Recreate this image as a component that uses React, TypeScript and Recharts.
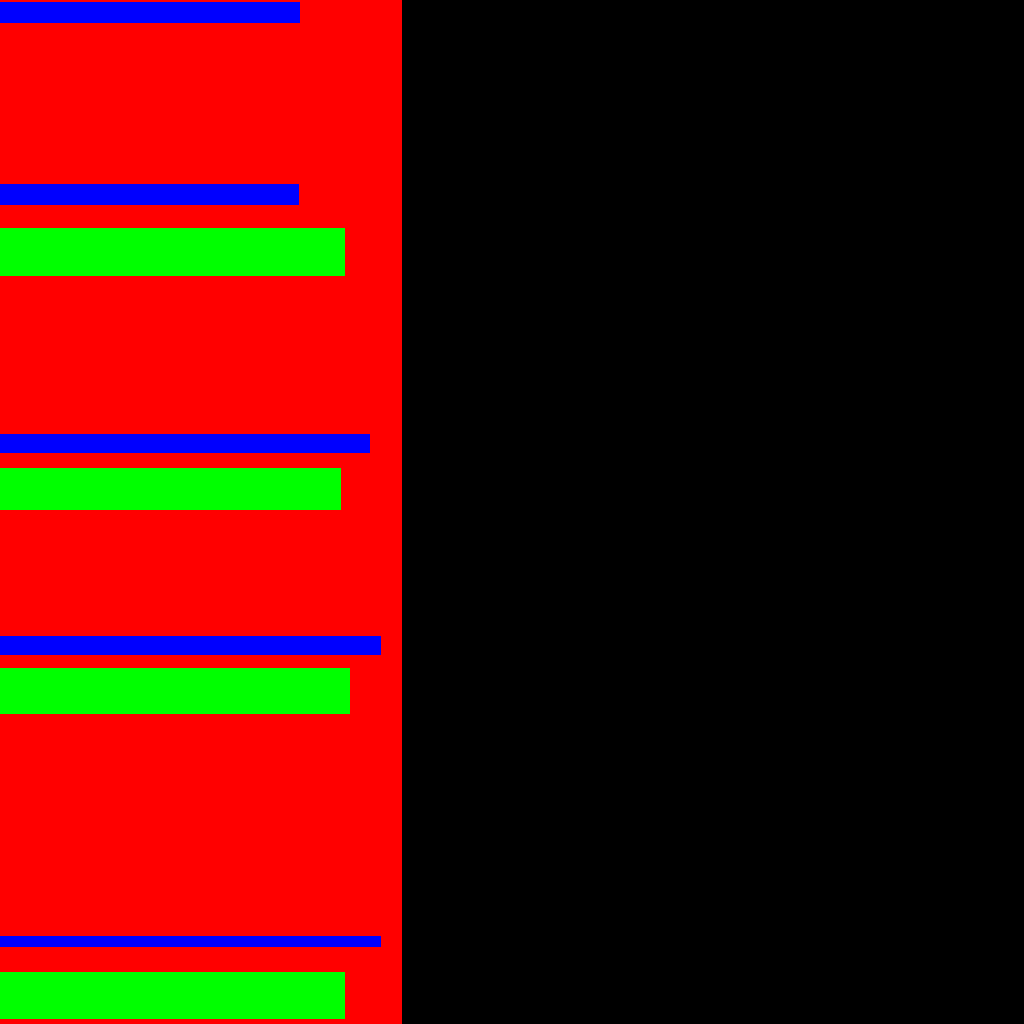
import { ComposedChart, XAxis, YAxis, ReferenceArea } from "recharts";

// extent of the plot in axis units (one unit = one pixel)
const axisMax = 1024;

// red panel
const panelLeft = [0];
const panelRight = [402];

// blue bars: top, bottom, length
const blueTop = [2, 184, 434, 636, 936];
const blueBottom = [23, 205, 453, 655, 947];
const blueValue = [300, 299, 370, 381, 381];

// green bars: top, bottom, length
const greenTop = [228, 468, 668, 972];
const greenBottom = [276, 510, 714, 1019];
const greenValue = [345, 341, 350, 345];

const RED = "#FF0000";
const BLUE = "#0000FF";
const GREEN = "#00FF00";

export default function App() {
  return (
    <div
      style={{
        position: "fixed",
        top: 0,
        left: 0,
        width: 1024,
        height: 1024,
        background: "#000000",
      }}
    >
      <ComposedChart width={1024} height={1024} data={[]} margin={{ top: 0, right: 0, bottom: 0, left: 0 }}>
        <XAxis type="number" dataKey="x" domain={[0, axisMax]} hide allowDataOverflow />
        <YAxis type="number" dataKey="y" domain={[0, axisMax]} reversed hide allowDataOverflow />
        {panelRight.map((r, i) => (
          <ReferenceArea
            key={`p${i}`}
            x1={panelLeft[i]}
            x2={r}
            y1={0}
            y2={axisMax}
            fill={RED}
            fillOpacity={1}
            stroke="none"
            ifOverflow="visible"
          />
        ))}
        {blueValue.map((v, i) => (
          <ReferenceArea
            key={`b${i}`}
            x1={0}
            x2={v}
            y1={blueTop[i]}
            y2={blueBottom[i]}
            fill={BLUE}
            fillOpacity={1}
            stroke="none"
            ifOverflow="visible"
          />
        ))}
        {greenValue.map((v, i) => (
          <ReferenceArea
            key={`g${i}`}
            x1={0}
            x2={v}
            y1={greenTop[i]}
            y2={greenBottom[i]}
            fill={GREEN}
            fillOpacity={1}
            stroke="none"
            ifOverflow="visible"
          />
        ))}
      </ComposedChart>
    </div>
  );
}
